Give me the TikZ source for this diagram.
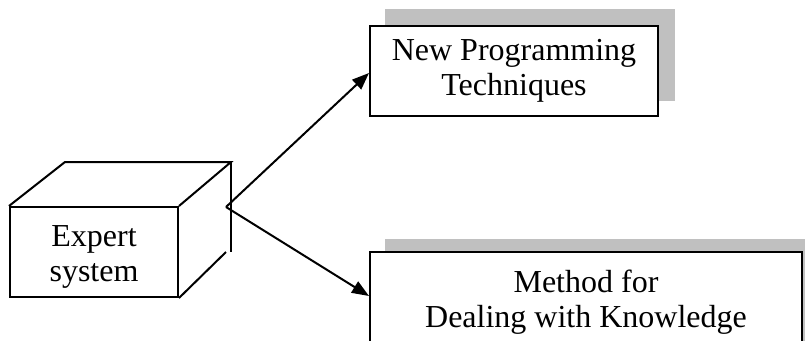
\documentclass[tikz,border=0pt]{standalone}
\usepackage{fontspec}
\setmainfont{Liberation Serif}
\usetikzlibrary{arrows.meta,backgrounds}
\definecolor{shadowgray}{RGB}{192,192,192}
\begin{document}
\begin{tikzpicture}[x=1pt,y=-1pt,line width=2pt,
  txt/.style={font=\fontsize{32}{35}\selectfont, align=center},
  box/.style={draw, fill=white, rectangle, inner sep=0pt, txt},
  arr/.style={-{Triangle[length=17pt,width=13pt]}, line width=2pt}]
\useasboundingbox (0,0) rectangle (805,340);
\clip (0,0) rectangle (805,340);
% boxes
\node[box, minimum width=288pt, minimum height=90pt] (up) at (514,71) {New Programming\\Techniques};
\node[box, minimum width=432pt, minimum height=100pt] (low) at (586,302) {Method for\\Dealing with Knowledge};
\begin{scope}[on background layer]
  \fill[shadowgray] ([xshift=16pt,yshift=16pt]up.south west) rectangle ([xshift=16pt,yshift=16pt]up.north east);
  \fill[shadowgray] ([xshift=16pt,yshift=12pt]low.south west) rectangle ([xshift=16pt,yshift=12pt]low.north east);
\end{scope}
% cube
\node[draw, minimum width=168pt, minimum height=90pt, inner sep=0pt] (face) at (94,252) {};
\node[txt] (es) at ([yshift=-5pt]face.center) {Expert\\system};
\coordinate (btl) at (65,162);
\coordinate (btr) at (231,162);
\coordinate (bbr) at (231,252);
\coordinate (bdr) at (226,252);
\draw (face.north west) -- (btl) -- (btr) -- (face.north east);
\draw (btr) -- (bbr);
\draw (face.south east) -- (bdr);
% arrows
\coordinate (v) at (226,207);
\draw[arr] (v) -- ([yshift=-2pt]up.west);
\draw[arr] (v) -- ([yshift=6pt]low.west);
\end{tikzpicture}
\end{document}
